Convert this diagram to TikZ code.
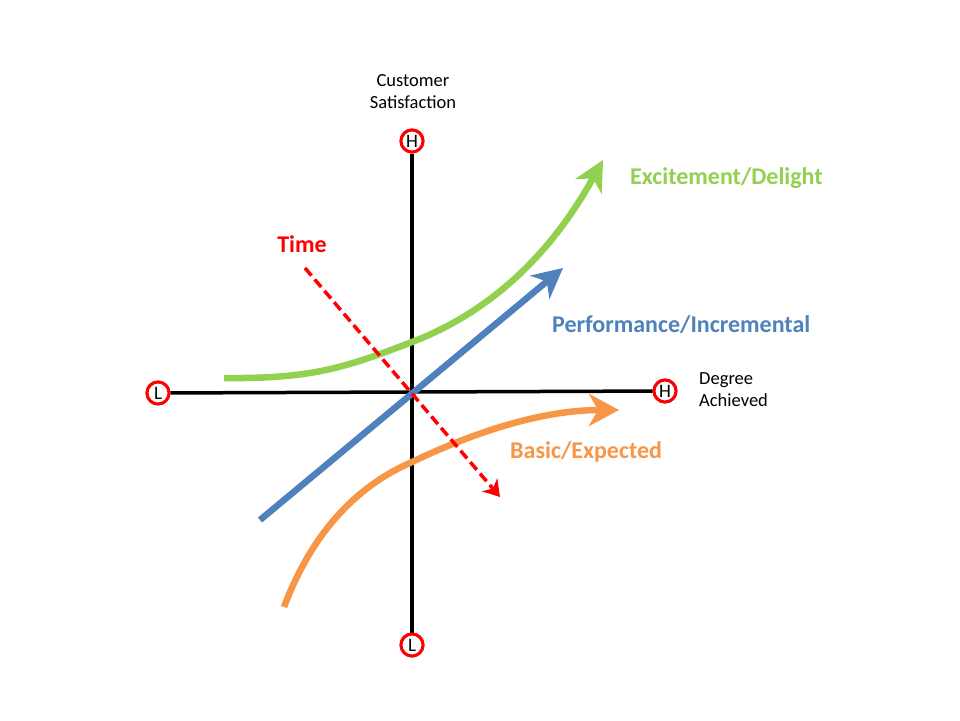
\documentclass[tikz,border=0pt]{standalone}
\usepackage{fontspec}
\setmainfont{Carlito}
\usetikzlibrary{arrows.meta}
\definecolor{cgreen}{HTML}{92D050}
\definecolor{cblue}{HTML}{4F81BD}
\definecolor{corange}{HTML}{F79646}
\definecolor{cred}{HTML}{FF0000}
\begin{document}
\begin{tikzpicture}[x=1pt,y=-1pt,
  endpt/.style={circle,draw=cred,line width=3pt,fill=white,minimum size=22pt,inner sep=0pt,font=\fontsize{19}{20}\selectfont},
  axis/.style={line width=3.5pt,black},
  curve/.style={line width=6.5pt,line cap=butt},
  lbl/.style={font=\fontsize{24}{28}\selectfont\bfseries,inner sep=0pt},
  small/.style={font=\fontsize{18.5}{22}\selectfont,inner sep=0pt}]
\useasboundingbox (0,0) rectangle (960,720);
\fill[white] (0,0) rectangle (960,720);
% endpoints
\node[endpt] (xl) at (158,393) {L};
\node[endpt] (xh) at (665,391) {H};
\node[endpt] (yh) at (412,141) {H};
\node[endpt] (yl) at (412,645) {L};
% axes
\draw[axis] (xl) -- (xh);
\draw[axis] (yh) -- (yl);
% curves
\coordinate (g0) at (224,378);
\coordinate (g1) at (412,342);
\coordinate (g2) at (603,160);
\draw[curve,cgreen,-{Stealth[length=30pt,width=30pt,inset=9pt]}]
  (g0) .. controls (310,379) and (345,368) .. (g1)
       .. controls (480,316) and (545,265) .. (g2);
\coordinate (b0) at (260,520);
\coordinate (b1) at (563,268);
\draw[curve,cblue,-{Stealth[length=30pt,width=30pt,inset=9pt]}] (b0) -- (b1);
\coordinate (o0) at (284,607);
\coordinate (o1) at (412,462);
\coordinate (o2) at (619,410);
\draw[curve,corange,-{Stealth[length=30pt,width=32pt,inset=9pt]}]
  (o0) .. controls (310,538) and (352,488) .. (o1)
       .. controls (470,434) and (540,410) .. (o2);
\coordinate (t0) at (305,268);
\coordinate (t1) at (500,497);
\draw[cred,line width=3.5pt,dash pattern=on 10pt off 5pt,-{Stealth[length=16pt,width=20pt,inset=5pt]}] (t0) -- (t1);
% redraw endpoints on top
\node[endpt] at (xl) {L};
\node[endpt] at (xh) {H};
\node[endpt] at (yh) {H};
\node[endpt] at (yl) {L};
% labels
\node[small,align=center] (ytitle) at (413,92) {Customer\\Satisfaction};
\node[small,align=left,anchor=west] (xtitle) at (699,390) {Degree\\Achieved};
\node[lbl,cgreen,anchor=west] (lex) at (630,178) {Excitement/Delight};
\node[lbl,cblue,anchor=west] (lperf) at (552,325) {Performance/Incremental};
\node[lbl,corange,anchor=west] (lbas) at (510,452) {Basic/Expected};
\node[lbl,cred] (ltime) at (302,244) {Time};
\end{tikzpicture}
\end{document}
